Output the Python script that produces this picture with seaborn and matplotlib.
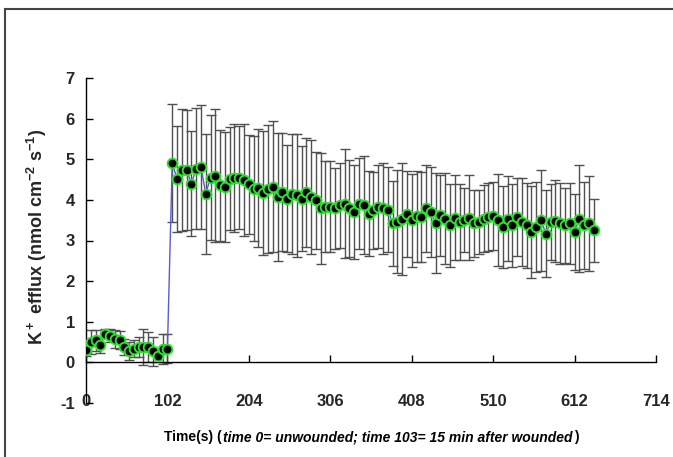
import matplotlib
matplotlib.use('Agg')
import matplotlib.pyplot as plt
import seaborn as sns
import pandas as pd
from matplotlib.patches import Rectangle
from matplotlib.offsetbox import TextArea, HPacker, AnchoredOffsetbox

# before wounding (time 0 = unwounded)
pre_time = [0, 6, 12, 18, 24, 30, 36, 42, 48, 54, 60, 66, 72, 78, 84, 90, 96, 102]
pre_flux = [0.30, 0.50, 0.54, 0.42, 0.71, 0.66, 0.58, 0.56, 0.38, 0.27,
            0.34, 0.38, 0.38, 0.38, 0.27, 0.15, 0.34, 0.34]
pre_err = [0.15, 0.29, 0.25, 0.20, 0.10, 0.15, 0.22, 0.22, 0.20, 0.22,
           0.20, 0.25, 0.45, 0.37, 0.35, 0.15, 0.37, 0.36]

# after wounding
post_time = [108, 114, 120, 126, 132, 138, 144, 150, 156, 162, 168, 174, 180, 186, 192,
             198, 204, 210, 216, 222, 228, 234, 240, 246, 252, 258, 264, 270, 276, 282,
             288, 294, 300, 306, 312, 318, 324, 330, 336, 342, 348, 354, 360, 366, 372,
             378, 384, 390, 396, 402, 408, 414, 420, 426, 432, 438, 444, 450, 456, 462,
             468, 474, 480, 486, 492, 498, 504, 510, 516, 522, 528, 534, 540, 546, 552,
             558, 564, 570, 576, 582, 588, 594, 600, 606, 612, 618, 624, 630, 636]
post_flux = [4.91, 4.52, 4.73, 4.73, 4.40, 4.77, 4.81, 4.15, 4.55, 4.60,
             4.36, 4.32, 4.52, 4.55, 4.55, 4.50, 4.38, 4.28, 4.30, 4.17,
             4.27, 4.32, 4.07, 4.19, 4.03, 4.15, 4.11, 4.03, 4.19, 4.07,
             3.99, 3.79, 3.83, 3.83, 3.79, 3.87, 3.91, 3.79, 3.70, 3.91,
             3.87, 3.66, 3.74, 3.83, 3.79, 3.76, 3.42, 3.46, 3.54, 3.65,
             3.50, 3.60, 3.58, 3.79, 3.70, 3.42, 3.62, 3.54, 3.37, 3.56,
             3.46, 3.50, 3.56, 3.42, 3.46, 3.54, 3.58, 3.60, 3.50, 3.33,
             3.54, 3.37, 3.58, 3.46, 3.37, 3.21, 3.33, 3.50, 3.17, 3.46,
             3.48, 3.42, 3.37, 3.42, 3.21, 3.54, 3.37, 3.42, 3.25]
post_err = [1.45, 1.30, 1.50, 1.48, 1.30, 1.48, 1.52, 1.48, 1.53, 1.64,
            1.37, 1.35, 1.27, 1.33, 1.26, 1.38, 1.22, 1.30, 1.45, 1.52,
            1.58, 1.61, 1.58, 1.45, 1.32, 1.48, 1.51, 1.30, 1.34, 1.40,
            1.19, 1.36, 1.12, 1.12, 1.00, 1.05, 1.34, 1.20, 1.15, 1.12,
            1.20, 1.05, 0.95, 1.02, 1.12, 1.05, 1.04, 1.27, 1.38, 1.05,
            1.14, 1.12, 1.11, 1.08, 1.10, 1.23, 1.00, 1.13, 1.03, 1.05,
            0.94, 0.79, 1.05, 0.82, 0.78, 0.82, 0.84, 0.84, 1.13, 1.00,
            1.05, 1.03, 0.96, 1.08, 1.05, 1.13, 1.11, 1.24, 1.07, 0.93,
            1.00, 1.00, 0.93, 1.00, 0.93, 1.32, 1.07, 1.17, 0.77]

x_ticks = [0, 102, 204, 306, 408, 510, 612, 714]
y_ticks = [-1, 0, 1, 2, 3, 4, 5, 6, 7]

df = pd.DataFrame({'time': pre_time + post_time,
                   'flux': pre_flux + post_flux,
                   'err': pre_err + post_err})

sns.set_theme(style='white')
plt.rcParams['font.family'] = ['Liberation Sans Narrow', 'Liberation Sans', 'DejaVu Sans']
plt.rcParams['font.weight'] = 'bold'
plt.rcParams['axes.unicode_minus'] = False
plt.rcParams['mathtext.fontset'] = 'custom'
plt.rcParams['mathtext.rm'] = 'Liberation Sans:bold'
plt.rcParams['mathtext.default'] = 'rm'

fig = plt.figure(figsize=(6.73, 4.57), dpi=100)
ax = fig.add_axes([86 / 673, 1 - 403 / 457, 570 / 673, 325 / 457])

ax.errorbar(df['time'], df['flux'], yerr=df['err'], fmt='none', ecolor='#505050',
            elinewidth=1, capsize=3.5, capthick=1, zorder=2)
sns.lineplot(data=df, x='time', y='flux', ax=ax, estimator=None, color='#5a5ad2', lw=1,
             marker='o', markersize=7, markerfacecolor='black',
             markeredgecolor='#2ee02e', markeredgewidth=1.4, zorder=3)

ax.set_xlim(0, 714)
ax.set_ylim(-1, 7)
ax.set_xticks(x_ticks)
ax.set_yticks(y_ticks)
ax.spines['top'].set_visible(False)
ax.spines['right'].set_visible(False)
ax.spines['bottom'].set_position(('data', 0))
for s in ['left', 'bottom']:
    ax.spines[s].set_color('black')
    ax.spines[s].set_linewidth(1)
ax.tick_params(bottom=True, left=True, direction='in', length=5, width=1,
               color='black', labelsize=12)
ax.tick_params(axis='x', pad=23)
ax.tick_params(axis='y', pad=8)

ax.set_xlabel('')
ax.set_ylabel(r'K$^+$ efflux (nmol cm$^{-2}$ s$^{-1}$)', fontsize=13, fontweight='bold')
ax.yaxis.set_label_coords(-0.065, 0.51)

bold = dict(fontsize=10, fontweight='bold', color='black')
boldit = dict(fontsize=10, fontweight='bold', fontstyle='italic', color='black')
label = HPacker(children=[TextArea('Time(s) (', textprops=bold),
                          TextArea('time 0= unwounded; time 103= 15 min after wounded', textprops=boldit),
                          TextArea(')', textprops=bold)],
                align='baseline', pad=0, sep=1)
box = AnchoredOffsetbox(loc='center', child=label, pad=0, frameon=False,
                        bbox_to_anchor=(0.5, -0.105), bbox_transform=ax.transAxes)
ax.add_artist(box)

fig.add_artist(Rectangle((5 / 673, -0.05), 1.1, 1.05 - 9 / 457, transform=fig.transFigure,
                         fill=False, ec='#444444', lw=1.5))

fig.savefig('out.png', dpi=100)
